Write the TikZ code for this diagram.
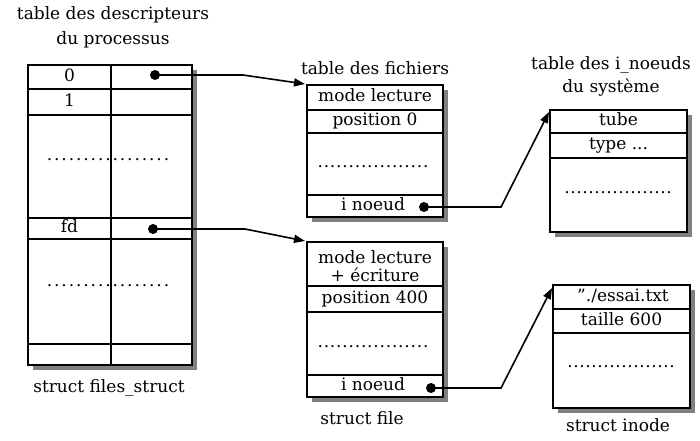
\documentclass[tikz,border=0pt]{standalone}
\usepackage{fontspec}
\setmainfont{DejaVu Serif}
\usetikzlibrary{arrows.meta}
\newcount\dotcnt
\newcommand\dotrow[2]{\dotcnt=1 .\loop\ifnum\dotcnt<#1 \kern#2.\advance\dotcnt by 1 \repeat}
\tikzset{
  tbox/.style={draw, line width=1.7pt, fill=white},
  tline/.style={line width=1.6pt},
  tshadow/.style={fill=black!50},
  lbl/.style={font=\fontsize{17}{18}\selectfont, inner sep=0pt, text height=12pt, text depth=3.5pt},
  dotsl/.style={font=\fontsize{17}{18}\selectfont, inner sep=0pt},
  ptr/.style={line width=1.6pt, -{Triangle[length=11pt,width=8pt]}},
  pdot/.style={circle, fill=black, inner sep=0pt, minimum size=10pt},
}
\begin{document}
\begin{tikzpicture}[x=1pt,y=-1pt]
\useasboundingbox (0,0) rectangle (700,440);
% ---------- left table: descripteurs ----------
\node[lbl] (tdesc1) at (113,15) {table des descripteurs};
\node[lbl] (tdesc2) at (113,40) {du processus};
\fill[tshadow] (33,70) rectangle (197,370);
\draw[tbox] (28,65) rectangle (192,365);
\draw[tline] (111,65) -- (111,365);
\foreach \yy in {89,115,218,239,344} \draw[tline] (28,\yy) -- (192,\yy);
\node[lbl] (r0) at (69.5,77) {0};
\node[lbl] (r1) at (69.5,102) {1};
\node[lbl] (rfd) at (69.5,228.5) {fd};
\node[dotsl] (ldots1) at (108,160) {\dotrow{17}{1.9pt}};
\node[dotsl] (ldots2) at (108,286) {\dotrow{17}{1.9pt}};
\node[lbl] (lfs) at (109,388) {struct files\_struct};
\node[pdot] (d0) at (155,75) {};
\node[pdot] (dfd) at (153,229) {};
% ---------- middle top: table des fichiers ----------
\node[lbl] (tfich) at (375,70) {table des fichiers};
\fill[tshadow] (312,90) rectangle (448,222);
\draw[tbox] (307,85) rectangle (443,217);
\foreach \yy in {110,133,195} \draw[tline] (307,\yy) -- (443,\yy);
\node[lbl] (f1a) at (375,97.5) {mode lecture};
\node[lbl] (f1b) at (375,121.5) {position 0};
\node[dotsl] (f1c) at (373,167) {\dotrow{18}{0.8pt}};
\node[lbl] (f1d) at (373,206) {i noeud};
\node[pdot] (di1) at (424,207) {};
\coordinate (f1corner) at (305,84);
% ---------- middle bottom: struct file ----------
\fill[tshadow] (312,247) rectangle (448,402);
\draw[tbox] (307,242) rectangle (443,397);
\foreach \yy in {286,312,375} \draw[tline] (307,\yy) -- (443,\yy);
\node[lbl] (f2a) at (375,259) {mode lecture};
\node[lbl] (f2b) at (375,277) {+ écriture};
\node[lbl] (f2c) at (375,299) {position 400};
\node[dotsl] (f2d) at (373,347) {\dotrow{18}{0.8pt}};
\node[lbl] (f2e) at (373,386) {i noeud};
\node[pdot] (di2) at (431,388) {};
\node[lbl] (lfile) at (362,420) {struct file};
\coordinate (f2corner) at (305,241);
% ---------- right top: i_noeuds ----------
\node[lbl] (tin1) at (611,65) {table des i\_noeuds};
\node[lbl] (tin2) at (611,88) {du système};
\fill[tshadow] (555,115) rectangle (692,237);
\draw[tbox] (550,110) rectangle (687,232);
\foreach \yy in {133,158} \draw[tline] (550,\yy) -- (687,\yy);
\node[lbl] (i1a) at (618.5,121.5) {tube};
\node[lbl] (i1b) at (618.5,145.5) {type ...};
\node[dotsl] (i1c) at (618,193) {\dotrow{18}{0.6pt}};
\coordinate (i1corner) at (549,112);
% ---------- right bottom: struct inode ----------
\fill[tshadow] (558,290) rectangle (695,413);
\draw[tbox] (553,285) rectangle (690,408);
\foreach \yy in {309,333} \draw[tline] (553,\yy) -- (690,\yy);
\node[lbl] (i2a) at (623,297) {\symbol{34}./essai.txt};
\node[lbl] (i2b) at (621.5,321) {taille 600};
\node[dotsl] (i2c) at (621,367) {\dotrow{18}{0.6pt}};
\node[lbl] (linode) at (618,427) {struct inode};
\coordinate (i2corner) at (552,288);
% ---------- connectors ----------
\coordinate (b0) at (243,75);
\coordinate (bfd) at (245,229);
\coordinate (bi1) at (501,207);
\coordinate (bi2) at (501,388);
\draw[ptr] (d0.center) -- (b0) -- (f1corner);
\draw[ptr] (dfd.center) -- (bfd) -- (f2corner);
\draw[ptr] (di1.center) -- (bi1) -- (i1corner);
\draw[ptr] (di2.center) -- (bi2) -- (i2corner);
\end{tikzpicture}
\end{document}
